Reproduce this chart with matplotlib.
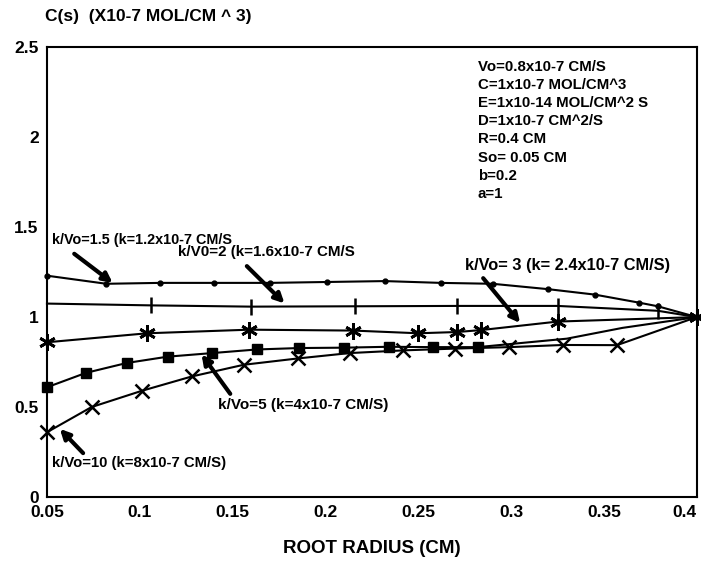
import matplotlib
matplotlib.use('Agg')
import matplotlib.pyplot as plt

plt.rcParams['font.family'] = ['Liberation Sans', 'DejaVu Sans']
plt.rcParams['font.weight'] = 'bold'

# k/Vo = 1.5 (small dots)
x15 = [0.05, 0.082, 0.111, 0.14, 0.17, 0.201, 0.232, 0.262, 0.29, 0.32, 0.345, 0.369, 0.379, 0.4]
y15 = [1.23, 1.185, 1.19, 1.19, 1.19, 1.195, 1.2, 1.19, 1.185, 1.155, 1.125, 1.08, 1.06, 1.0]
# k/Vo = 2 (vertical ticks)
x2 = [0.05, 0.106, 0.16, 0.216, 0.271, 0.325, 0.379, 0.4]
y2 = [1.075, 1.065, 1.058, 1.06, 1.062, 1.062, 1.035, 1.0]
# k/Vo = 3 (asterisks)
x3 = [0.05, 0.104, 0.159, 0.215, 0.25, 0.271, 0.284, 0.325, 0.4]
y3 = [0.86, 0.91, 0.93, 0.925, 0.91, 0.917, 0.928, 0.975, 1.0]
# k/Vo = 5 (filled squares)
x5 = [0.05, 0.071, 0.093, 0.115, 0.139, 0.163, 0.186, 0.21, 0.234, 0.258, 0.282, 0.33, 0.36, 0.4]
y5 = [0.61, 0.69, 0.745, 0.78, 0.80, 0.82, 0.828, 0.83, 0.835, 0.833, 0.833, 0.88, 0.94, 1.0]
# k/Vo = 10 (crosses)
x10 = [0.05, 0.074, 0.101, 0.128, 0.156, 0.185, 0.213, 0.242, 0.27, 0.299, 0.328, 0.357, 0.4]
y10 = [0.36, 0.50, 0.59, 0.67, 0.735, 0.77, 0.80, 0.815, 0.825, 0.833, 0.845, 0.844, 1.0]

params = ["Vo=0.8x10-7 CM/S", "C=1x10-7 MOL/CM^3", "E=1x10-14 MOL/CM^2 S",
          "D=1x10-7 CM^2/S", "R=0.4 CM", "So= 0.05 CM", "b=0.2", "a=1"]
xticks = [0.05, 0.1, 0.15, 0.2, 0.25, 0.3, 0.35, 0.4]
xticklabels = ["0.05", "0.1", "0.15", "0.2", "0.25", "0.3", "0.35", "0.4"]
yticks = [0, 0.5, 1, 1.5, 2, 2.5]
yticklabels = ["0", "0.5", "1", "1.5", "2", "2.5"]

fig = plt.figure(figsize=(7.01, 5.61), dpi=100)
ax = fig.add_axes([0.067, 0.114, 0.927, 0.802])

ax.plot(x15, y15, color='black', lw=1.5, marker='o', markersize=3.5, clip_on=False)
ax.plot(x2, y2, color='black', lw=1.5, clip_on=False)
ax.plot(x2[1:], y2[1:], ls='none', color='black', marker='|', markersize=12, markeredgewidth=1.8, clip_on=False)
ax.plot(x3, y3, color='black', lw=1.5, marker=(6, 2, 0), markersize=12, markeredgewidth=2, clip_on=False)
ax.plot(x5, y5, color='black', lw=1.5)
ax.plot(x5[:11], y5[:11], ls='none', color='black', marker='s', markersize=6.5, clip_on=False)
ax.plot(x10, y10, color='black', lw=1.5)
ax.plot(x10[:12], y10[:12], ls='none', color='black', marker='x', markersize=10, markeredgewidth=1.8, clip_on=False)

# labels with arrows
labels = [
    ("k/Vo=1.5 (k=1.2x10-7 CM/S", 10.4, (0.0527, 1.428), (0.0635, 1.361), (0.0866, 1.18)),
    ("k/V0=2 (k=1.6x10-7 CM/S", 10.9, (0.1205, 1.361), (0.1566, 1.294), (0.179, 1.065)),
    ("k/Vo= 3 (k= 2.4x10-7 CM/S)", 11.8, (0.275, 1.289), (0.284, 1.228), (0.3058, 0.955)),
    ("k/Vo=5 (k=4x10-7 CM/S)", 11, (0.142, 0.511), (0.1496, 0.561), (0.1324, 0.805)),
    ("k/Vo=10 (k=8x10-7 CM/S)", 10.7, (0.0527, 0.189), (0.0705, 0.233), (0.0559, 0.39)),
]
for txt, fs, tpos, tail, tip in labels:
    ax.text(tpos[0], tpos[1], txt, fontsize=fs, fontweight='bold', va='center', ha='left')
    ax.annotate('', xy=tip, xytext=tail,
                arrowprops=dict(arrowstyle='-|>', lw=3, color='black', mutation_scale=14))

ax.text(0.282, 2.43, "\n".join(params), fontsize=10.8, fontweight='bold',
        va='top', ha='left', linespacing=1.38)

ax.set_xlim(0.05, 0.4)
ax.set_ylim(0, 2.5)
ax.set_xticks(xticks)
ax.set_xticklabels(xticklabels, fontsize=12.5, fontweight='bold')
ax.get_xticklabels()[-1].set_horizontalalignment('right')
ax.set_yticks(yticks)
ax.set_yticklabels(yticklabels, fontsize=12.5, fontweight='bold')
ax.tick_params(length=0, pad=6)
for s in ax.spines.values():
    s.set_linewidth(1.5)

ax.set_xlabel("ROOT RADIUS (CM)", fontsize=13.5, fontweight='bold', labelpad=14)
fig.text(0.064, 0.97, "C(s)  (X10-7 MOL/CM ^ 3)", fontsize=12.5, fontweight='bold', va='center', ha='left')

fig.savefig('out.png', dpi=100)
